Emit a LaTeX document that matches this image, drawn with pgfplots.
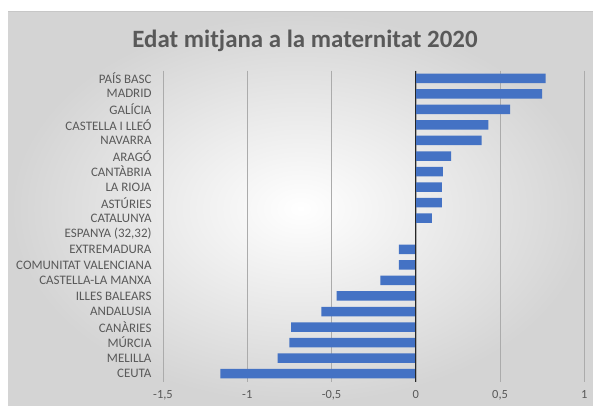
\documentclass[border=0pt]{standalone}
\usepackage{fontspec}
\setmainfont{Carlito}
\usepackage{pgfplots}
\pgfplotsset{compat=1.18}
\definecolor{barblue}{HTML}{4472C4}
\definecolor{txt}{HTML}{595959}
\definecolor{gridc}{HTML}{ABABAB}
\begin{document}
\begin{tikzpicture}[x=1bp,y=1bp]
\useasboundingbox (0,0) rectangle (593,405);
\fill[white] (0,0) rectangle (593,405);
\shade[inner color=white, outer color=black!17] (8,0) rectangle (593,393);
\draw[black!22, line width=0.6bp] (8,393.3) -- (593,393.3);
\node[font=\fontsize{25}{30}\selectfont\bfseries, text=txt] at (305,364) {Edat mitjana a la maternitat 2020};
\begin{axis}[at={(163bp,23.5bp)}, anchor=south west, scale only axis,
  width=421.3bp, height=311bp,
  xbar, bar width=9.5bp,
  xmin=-1.5, xmax=1, ymin=-0.5, ymax=19.5, y dir=reverse,
  axis line style={draw=none},
  xtick={-1.5,-1,-0.5,0,0.5,1},
  xticklabels={{-1,5},-1,{-0,5},0,{0,5},1},
  ytick={0,...,19},
  yticklabels={PAÍS BASC,MADRID,GALÍCIA,CASTELLA I LLEÓ,NAVARRA,ARAGÓ,CANTÀBRIA,LA RIOJA,ASTÚRIES,CATALUNYA,{ESPANYA (32,32)},EXTREMADURA,COMUNITAT VALENCIANA,CASTELLA-LA MANXA,ILLES BALEARS,ANDALUSIA,CANÀRIES,MÚRCIA,MELILLA,CEUTA},
  major tick length=0,
  xmajorgrids, major grid style={gridc, line width=0.5bp},
  ticklabel style={text=txt},
  xticklabel style={font=\fontsize{12.5}{14}\selectfont, yshift=-5bp},
  yticklabel style={font=\fontsize{13}{14}\selectfont, xshift=-8bp},
]
\addplot[fill=barblue, draw=none] coordinates {
(0.77,0) (0.75,1) (0.56,2) (0.43,3) (0.39,4) (0.21,5) (0.16,6) (0.155,7) (0.155,8) (0.095,9)
(0,10) (-0.1,11) (-0.1,12) (-0.21,13) (-0.47,14) (-0.56,15) (-0.74,16) (-0.75,17) (-0.82,18) (-1.16,19)};
\draw[black!85, line width=1.3bp] (axis cs:0,-0.5) -- (axis cs:0,19.5);
\end{axis}
\end{tikzpicture}
\end{document}
